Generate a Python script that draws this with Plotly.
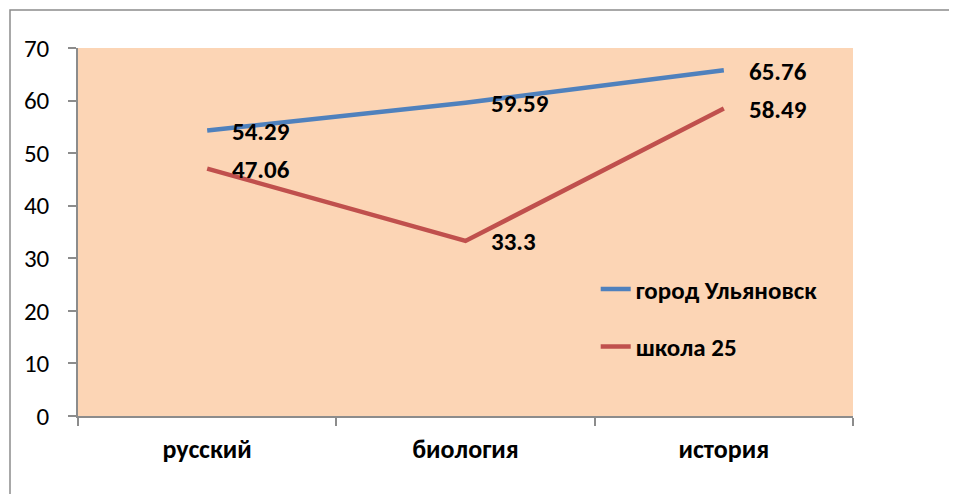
import plotly.graph_objects as go

categories = ["русский", "биология", "история"]
city_name = "город Ульяновск"
city_values = [54.29, 59.59, 65.76]
school_name = "школа 25"
school_values = [47.06, 33.3, 58.49]
y_ticks = [0, 10, 20, 30, 40, 50, 60, 70]

BLUE = "#4F81BD"
RED = "#C0504D"
BG = "#FCD5B5"
GRAY = "#8C8C8C"
FONT = "Carlito, Calibri, Lato, sans-serif"

fig = go.Figure()
fig.add_trace(go.Scatter(x=categories, y=city_values, mode="lines", name=city_name,
                         line=dict(color=BLUE, width=4.5), legendgroup="a"))
fig.add_trace(go.Scatter(x=categories, y=school_values, mode="lines", name=school_name,
                         line=dict(color=RED, width=4.5), legendgroup="b"))

for vals in (city_values, school_values):
    for c, v in zip(categories, vals):
        fig.add_annotation(x=c, y=v, text="<b>%s</b>" % (f"{v:g}"), showarrow=False,
                           xanchor="left", yanchor="middle", xshift=23, yshift=-1,
                           font=dict(family=FONT, size=25, color="black"))

OFF = 8  # page body offset
W, H = 957, 494
L, T = 78 - OFF, 48 - OFF
R, B = (W - 853) + OFF, (H - 416) + OFF
pw, ph = W - L - R, H - T - B
fig.add_shape(type="rect", xref="paper", yref="paper",
              x0=(10 - OFF - L) / pw, x1=(W + 20 - L) / pw,
              y0=-(H + 20 - T - ph) / ph, y1=1 + (T - (10 - OFF)) / ph,
              line=dict(color=GRAY, width=1.5), fillcolor="rgba(0,0,0,0)", layer="below")

fig.update_layout(
    width=W, height=H,
    margin=dict(l=L, r=R, t=T, b=B),
    paper_bgcolor="white", plot_bgcolor=BG,
    font=dict(family=FONT, color="black"),
    showlegend=True,
    legend=dict(x=0.668, y=0.407, xanchor="left", yanchor="top",
                bgcolor="rgba(0,0,0,0)", tracegroupgap=22,
                font=dict(family=FONT, size=25, color="black", weight="bold")),
    xaxis=dict(type="category", showgrid=False, showline=True, linecolor=GRAY, linewidth=1.5,
               ticks="outside", tickson="boundaries", ticklen=8, tickcolor=GRAY, tickwidth=1.5,
               tickfont=dict(family=FONT, size=26, color="black", weight="bold"),
               ticklabelstandoff=9, range=[-0.5, 2.5], zeroline=False),
    yaxis=dict(range=[0, 70], tickvals=y_ticks, showgrid=False, showline=True, linecolor=GRAY,
               linewidth=1.5, ticks="outside", ticklen=8, tickcolor=GRAY, tickwidth=1.5,
               tickfont=dict(family=FONT, size=25, color="black"), ticklabelstandoff=14,
               zeroline=False),
)

fig.write_html("out.html")
